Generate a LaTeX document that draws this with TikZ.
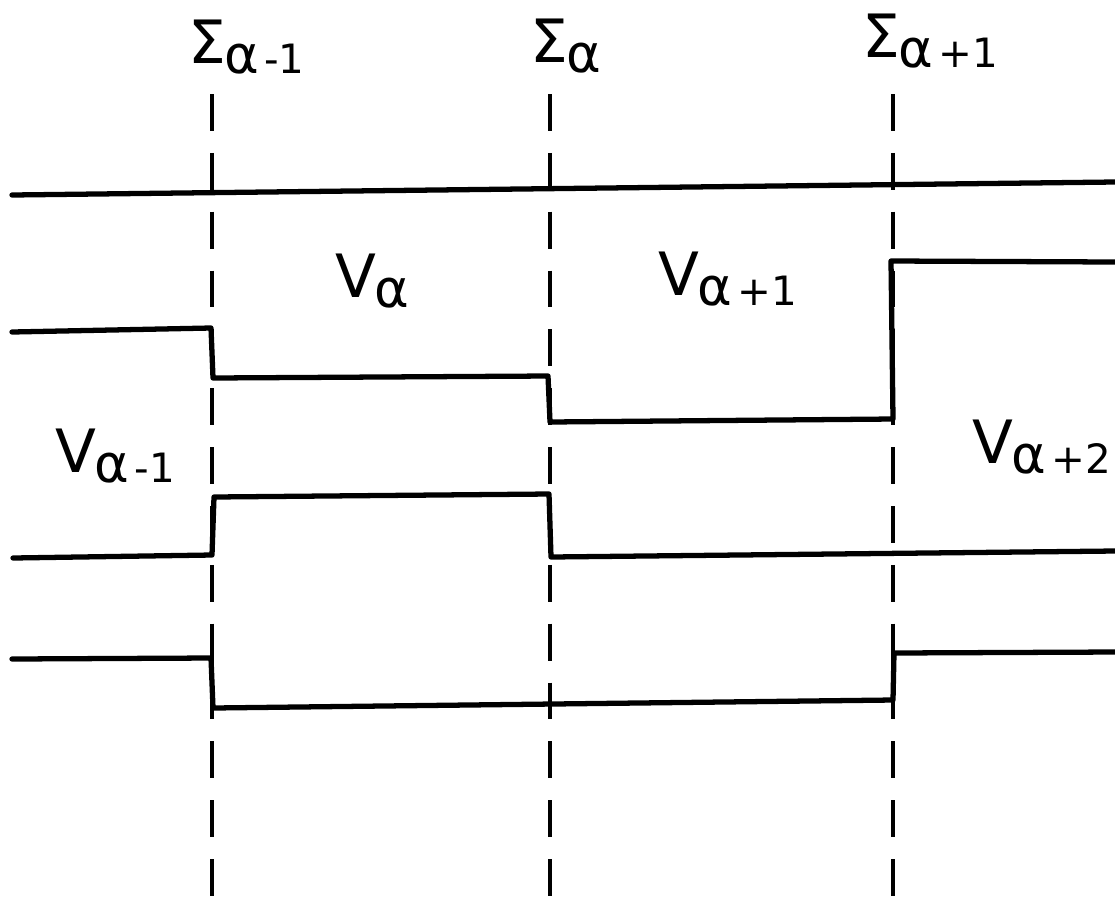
\documentclass[tikz,border=0pt]{standalone}
\usepackage{fontspec}
\setmainfont{DejaVu Sans}
\newcommand{\lbl}[3]{{\fontsize{34}{34}\selectfont #1}\kern-1pt\raisebox{-6pt}{\fontsize{30}{30}\selectfont #2\kern3pt\fontsize{23}{23}\selectfont #3}}

\begin{document}
\begin{tikzpicture}[x=0.02cm,y=-0.02cm,
 W/.style={line width=3pt,line cap=round,line join=round},
 S/.style={line width=2.2pt,dash pattern=on 21pt off 12.5pt},
 T/.style={anchor=base west,inner sep=0pt}]
 \useasboundingbox (0,0) rectangle (1115,917);
 \node[T](s1) at (188,63){\lbl{Σ}{α}{-1}};
 \node[T](s2) at (530,62){\lbl{Σ}{α}{}};
 \node[T](s3) at (862,57){\lbl{Σ}{α}{+1}};
 \node[T](va) at (335,297){\lbl{V}{α}{}};
 \node[T](vb) at (658,295){\lbl{V}{α}{+1}};
 \node[T](vc) at (55,472){\lbl{V}{α}{-1}};
 \node[T](vd) at (972,463){\lbl{V}{α}{+2}};
 \foreach \x in {212,550,893} \draw[S](\x,94)--(\x,917);
 \draw[W](12,195)--(1115,182);
 \draw[W](12,332)--(211,328)--(213,378)--(548,376)--(550,422)--(893,419)--(891,261)--(1115,262);
 \draw[W](13,558)--(212,555)--(214,497)--(549,494)--(551,557)--(1115,551);
 \draw[W](12,659)--(211,658)--(213,708)--(893,700)--(894,653)--(1115,652);
\end{tikzpicture}
\end{document}
